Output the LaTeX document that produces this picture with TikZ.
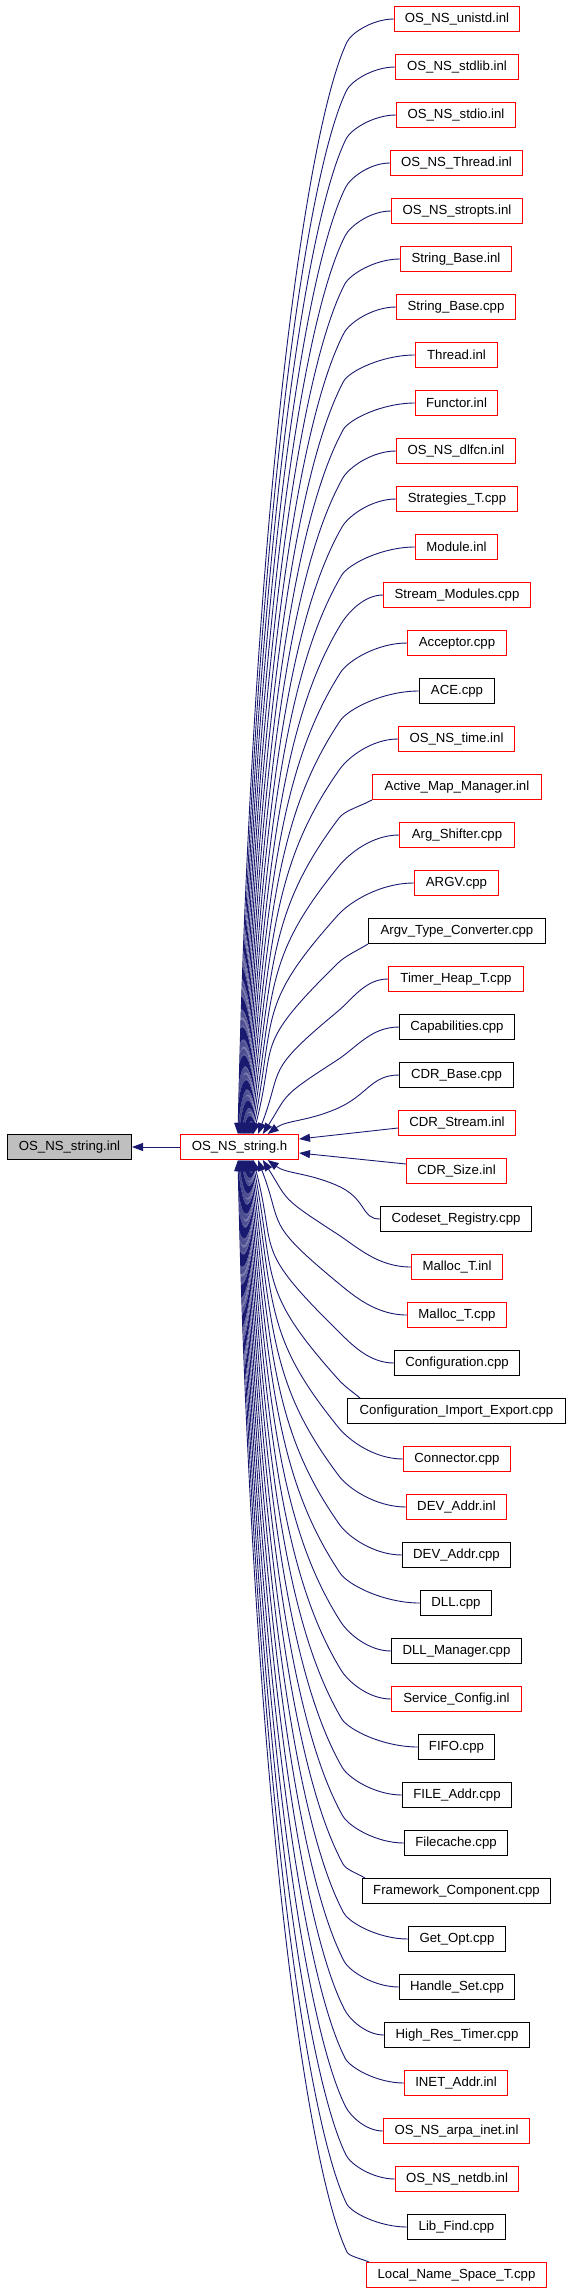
\documentclass[tikz,border=0pt]{standalone}
\usepackage{fontspec}
\setmainfont{Liberation Sans}
\usetikzlibrary{arrows.meta,calc}
\definecolor{edgecol}{RGB}{25,25,112}
\definecolor{fillgray}{RGB}{191,191,191}
\newdimen\qdim
\tikzset{
  box/.style={draw, line width=1pt, inner sep=0pt, minimum height=25pt,
    font=\fontsize{13.2}{15}\selectfont},
  fanedge/.style={draw=edgecol, line width=0.9pt, -{Triangle[length=11pt,width=8pt]}, color=edgecol}
}
% #1 node index, #2 mirrored row k, #3 sign (+1 above hub, -1 below hub)
\newcommand\drawfan[3]{%
  \pgfextractx{\qdim}{\pgfpointanchor{n#1}{west}}%
  \pgfmathsetmacro\qxl{\qdim}%
  \pgfmathsetmacro\qk{#2}%
  \pgfmathsetmacro\qs{#3}%
  \pgfmathsetmacro\qyc{19+48*\qk}%
  \pgfmathsetmacro\qn{23.5-\qk}%
  \pgfmathsetmacro\qEx{347-0.5*\qk}%
  \pgfmathsetmacro\qEy{\qyc+23+0.5*\qk}%
  \pgfmathsetmacro\qsl{0.35+3/\qn}%
  \pgfmathsetmacro\qV{1134-\qEy}%
  \pgfmathsetmacro\qLa{min(90,0.5*\qV)}%
  \pgfmathsetmacro\qa{2.5/pow(\qn,1.5)}%
  \pgfmathsetmacro\qLb{0.55*\qV}%
  \pgfmathsetmacro\qxt{238+0.8*\qk+(\qk>19)*(\qk-19)*4}%
  \pgfmathsetmacro\qc{\qxl<375 ? 1 : 0}%
  \pgfmathsetmacro\qSx{\qc>0.5 ? max(\qxl,\qEx+22) : \qxl}%
  \pgfmathsetmacro\qSy{\qyc+12.5*\qc}%
  \pgfmathsetmacro\qAx{\qc>0.5 ? \qSx+0.4*(\qEx-\qSx) : \qSx-0.45*(\qSx-\qEx)}%
  \pgfmathsetmacro\qAy{\qc>0.5 ? \qSy+0.4*(\qEy-\qSy) : \qSy}%
  \pgfmathsetmacro\qh{0.4*(\qEy-\qSy)}%
  \pgfmathsetmacro\qBx{\qEx+\qsl*\qh}%
  \pgfmathsetmacro\qBy{\qEy-\qh}%
  \pgfmathsetmacro\qCx{\qEx-\qsl*\qLa}%
  \pgfmathsetmacro\qCy{\qEy+\qLa}%
  \pgfmathsetmacro\qDx{\qxt+\qa*\qLb}%
  \pgfmathsetmacro\qDy{1134-\qLb}%
  \pgfmathsetmacro\qo{(\qs-1)/2*2294}%
  \pgfmathsetmacro\tAy{\qs*(0-\qAy)+\qo}%
  \pgfmathsetmacro\tBy{\qs*(0-\qBy)+\qo}%
  \pgfmathsetmacro\tEy{\qs*(0-\qEy)+\qo}%
  \pgfmathsetmacro\tCy{\qs*(0-\qCy)+\qo}%
  \pgfmathsetmacro\tDy{\qs*(0-\qDy)+\qo}%
  \ifdim\qc pt>0.5pt
    \ifdim\qs pt>0pt \def\qanch{south west}\else\def\qanch{north west}\fi
  \else\def\qanch{west}\fi
  \ifdim\qs pt>0pt \def\qhub{north west}\else\def\qhub{south west}\fi
  \pgfmathsetmacro\qdx{\qSx-\qxl}%
  \pgfmathsetmacro\qhx{\qxt-180}%
  \draw[fanedge] ([xshift=\qdx pt]n#1.\qanch) .. controls (\qAx,\tAy) and (\qBx,\tBy) .. (\qEx,\tEy)
     .. controls (\qCx,\tCy) and (\qDx,\tDy) .. ([xshift=\qhx pt]hub.\qhub);
}
\begin{document}
\begin{tikzpicture}[x=1pt,y=1pt]
\useasboundingbox (0,0) rectangle (571,-2291);
\node[box, fill=fillgray, minimum width=124pt] (left) at (69.5,-1147) {OS\_NS\_string.inl};
\node[box, draw=red, minimum width=118pt] (hub) at (239.5,-1147) {OS\_NS\_string.h};
\foreach \nr/\nlab/\nxl/\nxr/\ncol in {
0/OS\_NS\_unistd.inl/394/520/red,
1/OS\_NS\_stdlib.inl/395/519/red,
2/OS\_NS\_stdio.inl/396/516/red,
3/OS\_NS\_Thread.inl/390/523/red,
4/OS\_NS\_stropts.inl/391/523/red,
5/String\_Base.inl/400/512/red,
6/String\_Base.cpp/396/516/red,
7/Thread.inl/415/498/red,
8/Functor.inl/415/498/red,
9/OS\_NS\_dlfcn.inl/396/516/red,
10/Strategies\_T.cpp/396/518/red,
11/Module.inl/415/498/red,
12/Stream\_Modules.cpp/383/531/red,
13/Acceptor.cpp/407/507/red,
14/ACE.cpp/419/495/black,
15/OS\_NS\_time.inl/398/515/red,
16/Active\_Map\_Manager.inl/372/542/red,
17/Arg\_Shifter.cpp/399/515/red,
18/ARGV.cpp/414/499/red,
19/Argv\_Type\_Converter.cpp/368/546/black,
20/Timer\_Heap\_T.cpp/388/524/red,
21/Capabilities.cpp/399/515/black,
22/CDR\_Base.cpp/399/514/black,
23/CDR\_Stream.inl/398/516/red,
24/CDR\_Size.inl/406/507/red,
25/Codeset\_Registry.cpp/380/532/black,
26/Malloc\_T.inl/411/503/red,
27/Malloc\_T.cpp/407/507/red,
28/Configuration.cpp/394/520/black,
29/Configuration\_Import\_Export.cpp/347/566/black,
30/Connector.cpp/403/511/red,
31/DEV\_Addr.inl/406/507/red,
32/DEV\_Addr.cpp/402/511/black,
33/DLL.cpp/420/492/black,
34/DLL\_Manager.cpp/391/522/black,
35/Service\_Config.inl/391/522/red,
36/FIFO.cpp/418/495/black,
37/FILE\_Addr.cpp/402/512/black,
38/Filecache.cpp/404/508/black,
39/Framework\_Component.cpp/362/551/black,
40/Get\_Opt.cpp/408/506/black,
41/Handle\_Set.cpp/399/515/black,
42/High\_Res\_Timer.cpp/384/530/black,
43/INET\_Addr.inl/404/508/red,
44/OS\_NS\_arpa\_inet.inl/383/530/red,
45/OS\_NS\_netdb.inl/395/519/red,
46/Lib\_Find.cpp/407/506/black,
47/Local\_Name\_Space\_T.cpp/366/547/red}{
  \pgfmathsetmacro\ncx{(\nxl+\nxr)/2}
  \pgfmathsetmacro\nw{\nxr-\nxl-1}
  \pgfmathsetmacro\ny{-(19+48*\nr)}
  \node[box, draw=\ncol, minimum width=\nw pt] (n\nr) at (\ncx,\ny) {\nlab};
}
\draw[fanedge] (hub.west) -- (left.east);
\foreach \r in {0,...,22} {\drawfan{\r}{\r}{1}}
\foreach \r in {25,...,47} {\pgfmathtruncatemacro\kk{47-\r}\drawfan{\r}{\kk}{-1}}
\draw[fanedge] ([yshift=-5pt]n23.west) -- ([yshift=8pt]hub.east);
\draw[fanedge] ([yshift=7pt]n24.west) -- ([yshift=-6pt]hub.east);
\end{tikzpicture}
\end{document}
